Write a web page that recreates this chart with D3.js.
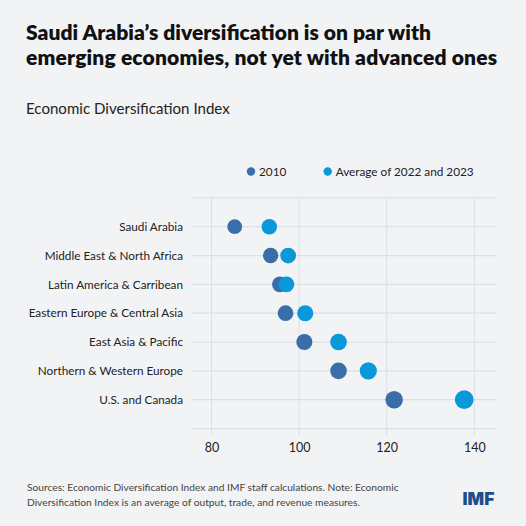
<!DOCTYPE html>
<html><head><meta charset="utf-8">
<script src="https://cdn.jsdelivr.net/npm/d3@7"></script>
<style>
html,body{margin:0;padding:0;background:#f2f3f5;}
svg{display:block;}
text{font-family:Lato,"Noto Sans",sans-serif;}
</style></head>
<body>
<svg id="chart" width="526" height="526"></svg>
<script>
const categories = ["Saudi Arabia","Middle East & North Africa","Latin America & Carribean","Eastern Europe & Central Asia","East Asia & Pacific","Northern & Western Europe","U.S. and Canada"];
const values2010 = [85.3, 93.5, 95.6, 96.9, 101.2, 109.0, 121.7];
const valuesAvg2223 = [93.2, 97.5, 97.1, 101.4, 109.0, 115.8, 137.7];
const seriesNames = ["2010", "Average of 2022 and 2023"];
const xTicks = [80, 100, 120, 140];
const titleLines = ["Saudi Arabia\u2019s diversification is on par with","emerging economies, not yet with advanced ones"];
const subtitle = "Economic Diversification Index";
const noteLines = ["Sources: Economic Diversification Index and IMF staff calculations. Note: Economic","Diversification Index is an average of output, trade, and revenue measures."];

const colors = ["#3a6ea9", "#0998da"];
const svg = d3.select("#chart");
svg.append("rect").attr("width",526).attr("height",526).attr("fill","#f2f3f5");

// scale a text's font size so its width matches a target width (clamped)
function fit(node, target, fs, lo, hi) {
  const w = node.getComputedTextLength();
  let f = w > 0 ? fs * target / w : fs;
  f = Math.max(lo, Math.min(hi, f));
  d3.select(node).attr("font-size", f);
  return f;
}

// title
const titleWidths = [405, 471];
svg.append("g").selectAll("text").data(titleLines).join("text")
  .attr("x",26).attr("y",(d,i)=>40+i*24.5)
  .attr("font-size",21).attr("font-weight",800).attr("fill","#111")
  .attr("textLength",(d,i)=>titleWidths[i]).attr("lengthAdjust","spacing")
  .text(d=>d);
const sub = svg.append("text").attr("x",26).attr("y",114).attr("font-size",15).attr("fill","#222").text(subtitle);
fit(sub.node(), 204, 15, 13.5, 16.5);

const plotL = 192, plotR = 496;
const x = d3.scaleLinear().domain([80,140]).range([211.5,474.3]);
const y = d3.scalePoint().domain(categories).range([226.7,399.7]);
const step = y.step();
const r = d3.scaleSqrt().domain([0,140]).range([0,9.45]);

const grid = svg.append("g");
const gridYs = [y(categories[0])-step, ...categories.map(c=>y(c)), y(categories[categories.length-1])+step];
const plotTop = gridYs[0], plotBot = gridYs[gridYs.length-1];
grid.selectAll("line.v").data(xTicks).join("line")
  .attr("x1",d=>x(d)).attr("x2",d=>x(d)).attr("y1",plotTop).attr("y2",plotBot+7)
  .attr("stroke","#dcdfe3").attr("stroke-width",1);
grid.selectAll("line.h").data(gridYs).join("line")
  .attr("x1",plotL).attr("x2",plotR).attr("y1",d=>d).attr("y2",d=>d)
  .attr("stroke","#dcdfe3").attr("stroke-width",1.3);

// x axis
const xAxis = svg.append("g").attr("transform",`translate(0,${plotBot+7})`)
  .call(d3.axisBottom(x).tickValues(xTicks).tickSize(0).tickPadding(8));
xAxis.select(".domain").remove();
xAxis.selectAll("text").attr("font-size",12.5).attr("fill","#222").style("font-family","Lato,'Noto Sans',sans-serif");

// y axis labels
const yAxis = svg.append("g").attr("transform",`translate(${plotL},0)`)
  .call(d3.axisLeft(y).tickSize(0).tickPadding(9));
yAxis.select(".domain").remove();
const yLabels = yAxis.selectAll("text").attr("font-size",12).attr("fill","#222").style("font-family","Lato,'Noto Sans',sans-serif");
const longest = yLabels.filter(d=>d==="Eastern Europe & Central Asia").node();
const yfs = fit(longest, 154.5, 12, 11, 13.5);
yLabels.attr("font-size", yfs);

// dots
const series = [values2010, valuesAvg2223];
series.forEach((vals,si)=>{
  svg.append("g").selectAll("circle").data(vals).join("circle")
    .attr("cx",d=>x(d)).attr("cy",(d,i)=>y(categories[i])).attr("r",d=>r(d))
    .attr("fill",colors[si]);
});

// legend
const legX = [251, 327.7];
const leg = svg.append("g");
const legTexts = seriesNames.map((n,i)=>{
  leg.append("circle").attr("cx",legX[i]).attr("cy",171.5).attr("r",4.2).attr("fill",colors[i]);
  return leg.append("text").attr("x",legX[i]+8).attr("y",175.8).attr("font-size",11.9).attr("fill","#222").text(n);
});
const lfs = fit(legTexts[1].node(), 138, 11.9, 11, 13.5);
legTexts[0].attr("font-size", lfs);

// footer
const notes = svg.append("g").selectAll("text").data(noteLines).join("text")
  .attr("x",27).attr("y",(d,i)=>491+i*14.5).attr("font-size",10.5).attr("fill","#444").text(d=>d);
const nfs = fit(notes.nodes()[0], 372, 10.5, 9.5, 11.5);
notes.attr("font-size", nfs);

const imf = svg.append("text").attr("x",462.5).attr("y",504.7).attr("font-size",18.5).attr("font-weight",900)
  .attr("fill","#1b4e8c").style("font-family","Inter,'Liberation Sans',sans-serif").text("IMF");
fit(imf.node(), 31.8, 18.5, 17, 21);
</script>
</body></html>
